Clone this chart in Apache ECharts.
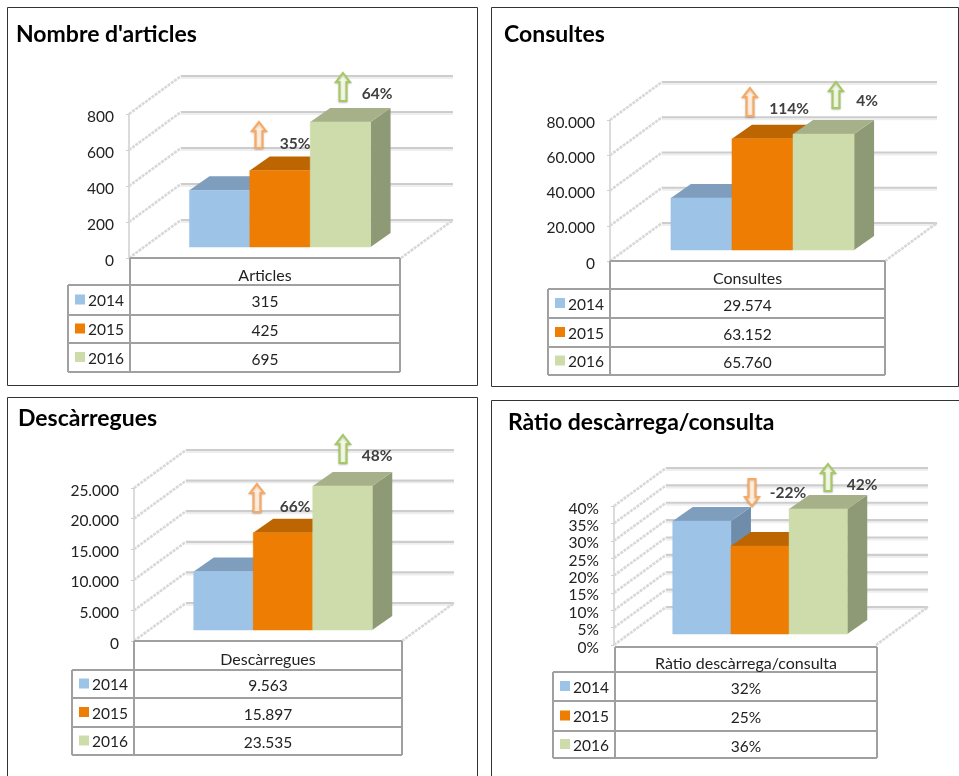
<!DOCTYPE html>
<html><head><meta charset="utf-8">
<style>html,body{margin:0;padding:0;background:#fff}#c{width:959px;height:776px}</style>
<script src="https://cdn.jsdelivr.net/npm/echarts@6/dist/echarts.min.js"></script>
</head><body><div id="c"></div>
<script>
// ---- data ----
const years = ['2014', '2015', '2016'];
const titles = ["Nombre d'articles", 'Consultes', 'Descàrregues', 'Ràtio descàrrega/consulta'];
const categories = ['Articles', 'Consultes', 'Descàrregues', 'Ràtio descàrrega/consulta'];
const articles = [315, 425, 695];
const consultes = [29574, 63152, 65760];
const descarregues = [9563, 15897, 23535];
const ratio = [32.5, 25.3, 36];
const ratioLabels = ['32%', '25%', '36%'];
const articlesChange = ['35%', '64%'];
const consultesChange = ['114%', '4%'];
const descarreguesChange = ['66%', '48%'];
const ratioChange = ['-22%', '42%'];
const yMax = [800, 80000, 25000, 40];
const yStep = [200, 20000, 5000, 5];

// ---- style and layout ----
const FONT = 'Lato';
const faces = [
  {front: '#9dc3e6', top: '#7f9dbd', side: '#6f8cab'},
  {front: '#ed7d03', top: '#bd6500', side: '#a85900'},
  {front: '#cedcab', top: '#a6b18a', side: '#8e9975'}
];
const dots = n => String(n).replace(/\B(?=(\d{3})+$)/g, '.');
const panels = [
  {values: articles, texts: articles.map(dots), change: articlesChange, fmt: dots,
   frame: [7, 7, 470, 378], title: [16, 34], x0: 129, x1: 401, yTop: 114, y0: 258,
   table: {l: 68, c: 130, r: 400, y: [258, 285, 315, 343, 372]},
   arrows: [{x: 259, y: 122, b: 148, up: 1, lx: 295, ly: 143}, {x: 343, y: 73, b: 101, up: 1, lx: 377, ly: 93}]},
  {values: consultes, texts: consultes.map(dots), change: consultesChange, fmt: dots,
   frame: [491, 7, 467, 379], title: [504, 34], x0: 610, x1: 885, yTop: 120, y0: 261,
   table: {l: 548, c: 610, r: 885, y: [261, 289, 318, 347, 375]},
   arrows: [{x: 750, y: 88, b: 116, up: 1, lx: 789, ly: 108}, {x: 836, y: 82, b: 108, up: 1, lx: 867, ly: 100}]},
  {values: descarregues, texts: descarregues.map(dots), change: descarreguesChange, fmt: dots,
   frame: [7, 397, 470, 400], title: [18, 418], x0: 134, x1: 402, yTop: 488, y0: 641,
   table: {l: 72, c: 134, r: 402, y: [641, 670, 698, 727, 755]},
   arrows: [{x: 257, y: 484, b: 512, up: 1, lx: 295, ly: 506}, {x: 343, y: 435, b: 463, up: 1, lx: 377, ly: 455}]},
  {values: ratio, texts: ratioLabels, change: ratioChange, fmt: v => v + '%',
   frame: [491, 400, 480, 400], title: [508, 422], x0: 614, x1: 876, yTop: 506, y0: 645,
   table: {l: 553, c: 615, r: 877, y: [647, 672, 701, 731, 758]},
   arrows: [{x: 752, y: 479, b: 506, up: 0, lx: 788, ly: 492}, {x: 828, y: 464, b: 491, up: 1, lx: 862, ly: 484}]}
];
const DX = 52, DY = 38;          // depth of the chart floor
const BF = [15, 11], BB = [35, 25]; // bar front and back planes inside that depth
const BAR = 0.222;               // bar width as a share of the category band

const grids = [], xAxes = [], yAxes = [], series = [], graphics = [];

function arrowShape(a) {
  const hw = 7, sw = 3.5, hh = 9, t = a.y, b = a.b, x = a.x;
  return a.up
    ? [[x, t], [x + hw, t + hh], [x + sw, t + hh], [x + sw, b], [x - sw, b], [x - sw, t + hh], [x - hw, t + hh]]
    : [[x, b], [x + hw, b - hh], [x + sw, b - hh], [x + sw, t], [x - sw, t], [x - sw, b - hh], [x - hw, b - hh]];
}

panels.forEach((p, k) => {
  grids.push({left: p.x0, width: p.x1 - p.x0, top: p.yTop, height: p.y0 - p.yTop, containLabel: false});
  xAxes.push({gridIndex: k, type: 'category', data: [categories[k]], show: false});
  yAxes.push({gridIndex: k, type: 'value', min: 0, max: yMax[k], interval: yStep[k],
    splitLine: {show: false},
    axisLine: {show: true, lineStyle: {color: '#cfcfcf', width: 1.5}},
    axisTick: {show: true, length: 3, lineStyle: {color: '#cfcfcf'}},
    axisLabel: {margin: 15, formatter: v => '{a|' + p.fmt(v) + '}',
      rich: {a: {color: '#222', fontFamily: FONT, fontSize: 15.5, padding: [5, 0, 0, 0]}}}});

  const ticks = [];
  for (let v = 0; v <= yMax[k]; v += yStep[k]) ticks.push(v);

  // back wall, side wall and floor
  series.push({
    type: 'custom', name: 'wall' + k, xAxisIndex: k, yAxisIndex: k, z: 1, silent: true,
    data: ticks.map(v => [0, v]),
    renderItem(params, api) {
      const pt = api.coord([0, api.value(1)]);
      const band = api.size([1, 0])[0];
      const x0 = pt[0] - band / 2, x1 = pt[0] + band / 2, y = pt[1];
      const ln = (a, b, c, d, s) => ({type: 'line', shape: {x1: a, y1: b, x2: c, y2: d}, style: s});
      const back = {stroke: '#cdcdcd', lineWidth: 2.2};
      const halo = {stroke: '#eeeeee', lineWidth: 2};
      const hatch = {stroke: '#d8d8d8', lineWidth: 2.6, lineDash: [3, 1]};
      const kids = [
        ln(x0 + DX, y - DY + 2, x1 + DX, y - DY + 2, halo),
        ln(x0 + DX, y - DY, x1 + DX, y - DY, back),
        ln(x0, y, x0 + DX, y - DY, hatch)
      ];
      if (api.value(1) === 0) kids.push(ln(x1, y, x1 + DX, y - DY, hatch));
      return {type: 'group', children: kids};
    },
    encode: {x: 0, y: 1}
  });

  // 3D bars, painted left to right
  series.push({
    type: 'custom', name: categories[k], xAxisIndex: k, yAxisIndex: k, z: 3, silent: true,
    data: p.values.map((v, i) => [0, v, i]),
    renderItem(params, api) {
      const i = api.value(2), f = faces[i];
      const top = api.coord([0, api.value(1)]), base = api.coord([0, 0]);
      const w = api.size([1, 0])[0] * BAR;
      const xl = top[0] - 1.5 * w + i * w + BF[0], xr = xl + w;
      const yt = top[1] - BF[1], yb = base[1] - BF[1];
      const dx = BB[0] - BF[0], dy = BB[1] - BF[1];
      const poly = (pts, c) => ({type: 'polygon', shape: {points: pts}, style: {fill: c}});
      return {type: 'group', children: [
        poly([[xr, yt], [xr + dx, yt - dy], [xr + dx, yb - dy], [xr, yb]], f.side),
        poly([[xl, yt], [xl + dx, yt - dy], [xr + dx, yt - dy], [xr, yt]], f.top),
        {type: 'rect', shape: {x: xl, y: yt, width: w, height: yb - yt},
         style: {fill: f.front, stroke: f.front, lineWidth: 0.5}}
      ]};
    },
    encode: {x: 0, y: 1}
  });

  // frame and title
  graphics.push({type: 'rect', z: 0, silent: true,
    shape: {x: p.frame[0] + .5, y: p.frame[1] + .5, width: p.frame[2], height: p.frame[3]},
    style: {fill: 'none', stroke: '#333', lineWidth: 1}});
  graphics.push({type: 'text', z: 10, x: p.title[0], y: p.title[1] + 1,
    style: {text: titles[k], fontFamily: FONT, fontWeight: 'bold', fontSize: 23, fill: '#000', verticalAlign: 'middle'}});

  // data table
  const t = p.table, ys = t.y;
  const rule = (a, b, c, d) => graphics.push({type: 'line', z: 5, silent: true,
    shape: {x1: a, y1: b, x2: c, y2: d}, style: {stroke: '#a0a0a0', lineWidth: 2}});
  rule(t.c, ys[0], t.r, ys[0]);
  rule(t.c, ys[0], t.c, ys[4]);
  rule(t.r, ys[0], t.r, ys[4]);
  rule(t.l, ys[1], t.l, ys[4]);
  for (let r = 1; r <= 4; r++) rule(t.l, ys[r], t.r, ys[r]);
  const mid = (t.c + t.r) / 2;
  graphics.push({type: 'text', z: 10, x: mid, y: (ys[0] + ys[1]) / 2 + 4,
    style: {text: categories[k], fontFamily: FONT, fontSize: 16, fill: '#222', align: 'center', verticalAlign: 'middle'}});
  years.forEach((yr, i) => {
    const cy = (ys[i + 1] + ys[i + 2]) / 2;
    graphics.push({type: 'rect', z: 10, silent: true,
      shape: {x: t.l + 7, y: cy - 5.5, width: 10, height: 10}, style: {fill: faces[i].front}});
    graphics.push({type: 'text', z: 10, x: t.l + 20, y: cy + 1,
      style: {text: yr, fontFamily: FONT, fontSize: 15.5, fill: '#222', verticalAlign: 'middle'}});
    graphics.push({type: 'text', z: 10, x: mid, y: cy + 2,
      style: {text: p.texts[i], fontFamily: FONT, fontSize: 15.5, fill: '#222', align: 'center', verticalAlign: 'middle'}});
  });

  // change arrows and percentages
  p.arrows.forEach((a, i) => {
    const orange = i === 0;
    graphics.push({type: 'polygon', z: 8, silent: true, shape: {points: arrowShape(a)},
      style: {fill: orange ? '#ffeedd' : '#f2f8e4', stroke: orange ? '#f8a860' : '#a5c866', lineWidth: 2,
              shadowBlur: 2, shadowColor: 'rgba(0,0,0,0.2)', shadowOffsetY: 1}});
    graphics.push({type: 'text', z: 10, x: a.lx, y: a.ly + 1,
      style: {text: p.change[i], fontFamily: FONT, fontWeight: 'bold', fontSize: 15.5, fill: '#404040',
              align: 'center', verticalAlign: 'middle'}});
  });
});

const chart = echarts.init(document.getElementById('c'));
chart.setOption({animation: false, backgroundColor: '#fff',
  grid: grids, xAxis: xAxes, yAxis: yAxes, series, graphic: graphics});
</script></body></html>
